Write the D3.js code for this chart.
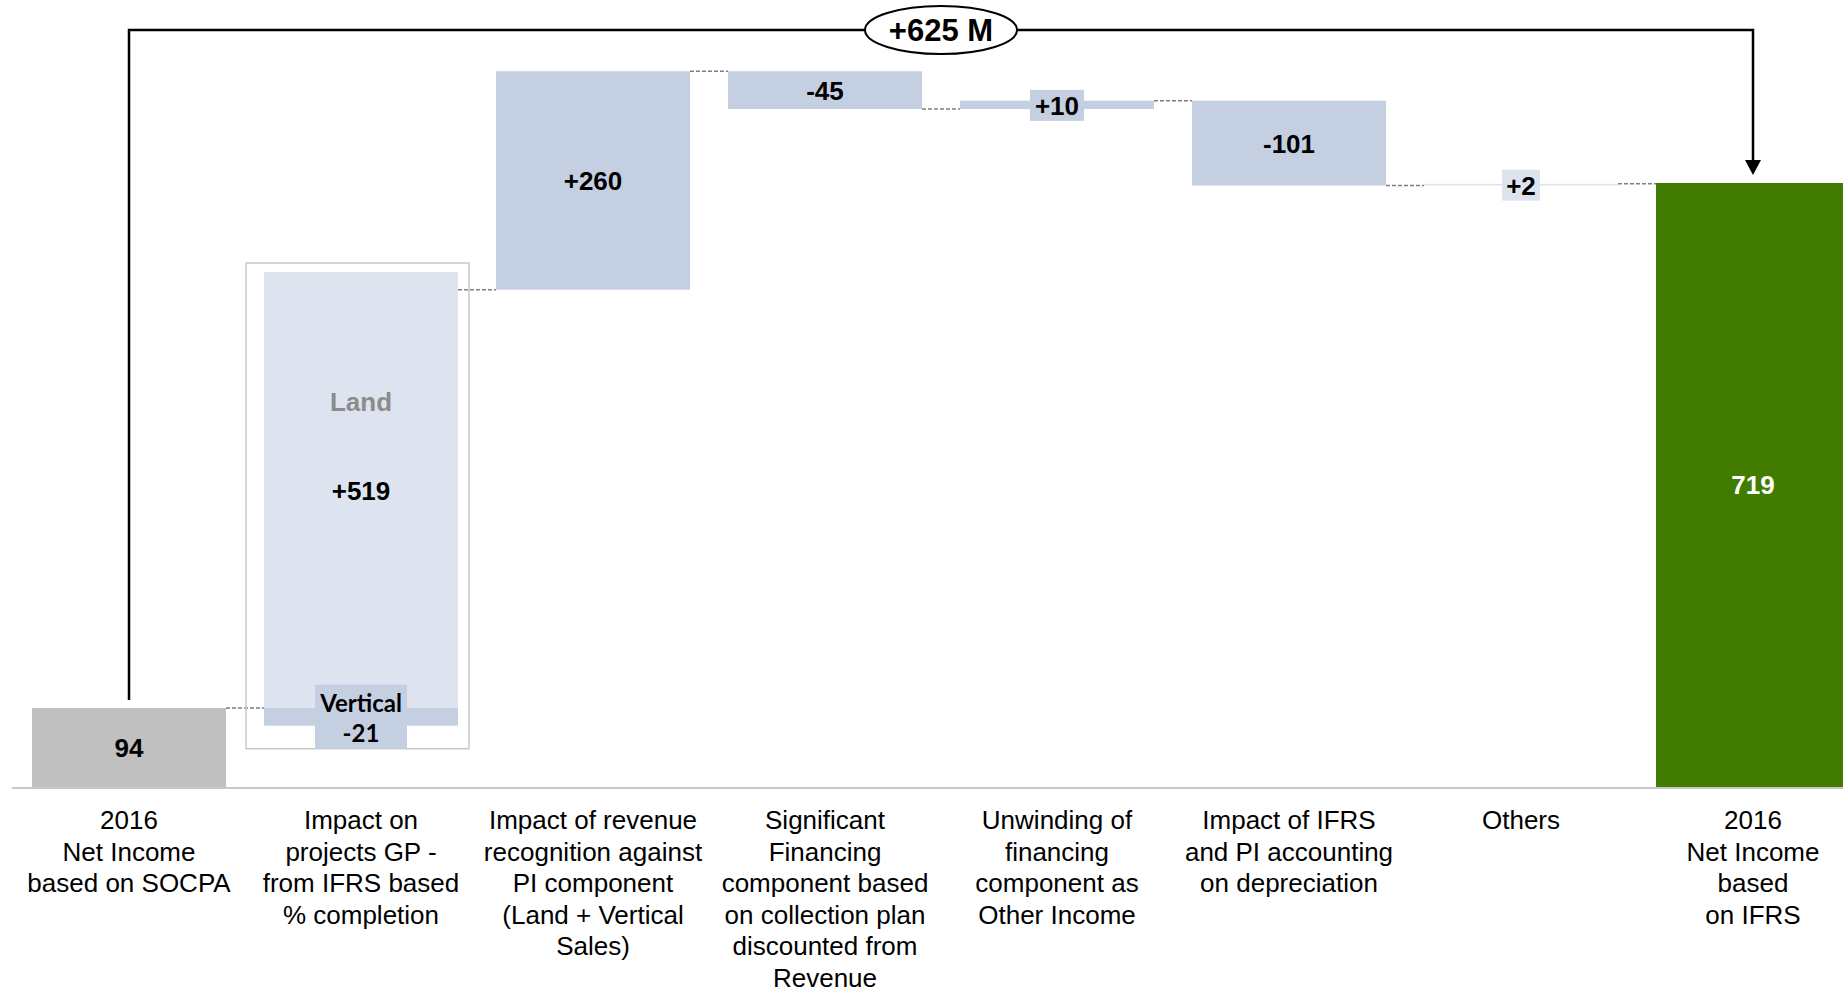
<!DOCTYPE html>
<html>
<head>
<meta charset="utf-8">
<script src="https://cdn.jsdelivr.net/npm/d3@7"></script>
<style>
  body { margin: 0; background: #fff; }
  svg { display: block; font-family: "Liberation Sans", Arial, sans-serif; }
</style>
</head>
<body>
<svg id="chart" width="1843" height="993"></svg>
<script>
// categories (x axis labels, one entry per line)
var categories = ['start', 'gp', 'revenue', 'financing', 'unwinding', 'depreciation', 'others', 'end'];
var categoryLines = [
  ['2016', 'Net Income', 'based on SOCPA'],
  ['Impact on', 'projects GP -', 'from IFRS based', '% completion'],
  ['Impact of revenue', 'recognition against', 'PI component', '(Land + Vertical', 'Sales)'],
  ['Significant', 'Financing', 'component based', 'on collection plan', 'discounted from', 'Revenue'],
  ['Unwinding of', 'financing', 'component as', 'Other Income'],
  ['Impact of IFRS', 'and PI accounting', 'on depreciation'],
  ['Others'],
  ['2016', 'Net Income', 'based', 'on IFRS']
];

var startValue = 94;
var landValue = 519;
var verticalValue = -21;
var stepValues = [260, -45, 10, -101, 2];   // revenue .. others
var stepLabels = ['+260', '-45', '+10', '-101', '+2'];
var endValue = 719;
var totalLabel = '+625 M';

var svg = d3.select('#chart');
var baseY = 787;

var x = d3.scaleBand()
  .domain(categories)
  .range([13, 1869])
  .paddingInner(0.164)
  .paddingOuter(0.082);

var y = d3.scaleLinear()
  .domain([0, endValue])
  .range([baseY, 183]);

var bw = x.bandwidth();
var barColor = '#c5cfe2';
var lightColor = '#dde4ef';

// running totals
var gpEnd = startValue + landValue + verticalValue;
var steps = [];
var run = gpEnd;
stepValues.forEach(function(v, i) {
  steps.push({cat: categories[i + 2], from: run, to: run + v, label: stepLabels[i], value: v});
  run += v;
});

// baseline
svg.append('line')
  .attr('x1', 12).attr('x2', 1843)
  .attr('y1', baseY + 1).attr('y2', baseY + 1)
  .attr('stroke', '#c8c8c8').attr('stroke-width', 2);

// connectors
var connectors = [
  {x1: x('start') + bw, x2: x('gp'), v: startValue},
  {x1: x('gp') + bw, x2: x('revenue'), v: gpEnd}
];
steps.forEach(function(s, i) {
  var next = i < steps.length - 1 ? steps[i + 1].cat : 'end';
  connectors.push({x1: x(s.cat) + bw, x2: x(next), v: s.to});
});
svg.selectAll('.conn')
  .data(connectors)
  .enter().append('line')
  .attr('class', 'conn')
  .attr('x1', function(d) { return d.x1; })
  .attr('x2', function(d) { return d.x2; })
  .attr('y1', function(d) { return y(d.v); })
  .attr('y2', function(d) { return y(d.v); })
  .attr('stroke', '#7f7f7f')
  .attr('stroke-width', 1.5)
  .attr('stroke-dasharray', '4,2');

// start bar
svg.append('rect')
  .attr('x', x('start')).attr('width', bw)
  .attr('y', y(startValue)).attr('height', baseY - y(startValue))
  .attr('fill', '#c0c0c0');
svg.append('text')
  .attr('x', x('start') + bw / 2).attr('y', (y(startValue) + baseY) / 2 + 9)
  .attr('text-anchor', 'middle').attr('font-weight', 'bold').attr('font-size', 26)
  .text(startValue);

// GP column: land + vertical
var gx = x('gp');
svg.append('rect')
  .attr('x', gx - 18).attr('width', bw + 29)
  .attr('y', y(startValue + landValue) - 9)
  .attr('height', y(startValue + verticalValue) + 23 - (y(startValue + landValue) - 9))
  .attr('fill', 'none').attr('stroke', '#c8c8c8').attr('stroke-width', 1.5);
svg.append('rect')
  .attr('x', gx).attr('width', bw)
  .attr('y', y(startValue + landValue)).attr('height', y(startValue) - y(startValue + landValue))
  .attr('fill', lightColor);
svg.append('rect')
  .attr('x', gx).attr('width', bw)
  .attr('y', y(startValue)).attr('height', y(startValue + verticalValue) - y(startValue))
  .attr('fill', barColor);
var landMid = (y(startValue + landValue) + y(startValue)) / 2;
svg.append('text')
  .attr('x', gx + bw / 2).attr('y', landMid - 79)
  .attr('text-anchor', 'middle').attr('font-weight', 'bold').attr('font-size', 26)
  .attr('fill', '#8c8c8c')
  .text('Land');
svg.append('text')
  .attr('x', gx + bw / 2).attr('y', landMid + 10)
  .attr('text-anchor', 'middle').attr('font-weight', 'bold').attr('font-size', 26)
  .text('+' + landValue);
var vBottom = y(startValue + verticalValue) + 23;
svg.append('rect')
  .attr('x', gx + bw / 2 - 46).attr('width', 92)
  .attr('y', vBottom - 64).attr('height', 64)
  .attr('fill', barColor);
svg.append('text')
  .attr('x', gx + bw / 2).attr('y', vBottom - 37)
  .attr('text-anchor', 'middle').attr('font-weight', 'bold').attr('font-size', 24)
  .attr('font-family', 'Lato, "Open Sans", sans-serif')
  .text('Vertical');
svg.append('text')
  .attr('x', gx + bw / 2).attr('y', vBottom - 7)
  .attr('text-anchor', 'middle').attr('font-weight', 'bold').attr('font-size', 24)
  .attr('font-family', 'Lato, "Open Sans", sans-serif')
  .text(verticalValue);

// step bars
var stepG = svg.selectAll('.step')
  .data(steps)
  .enter().append('g')
  .attr('class', 'step');
stepG.append('rect')
  .attr('x', function(d) { return x(d.cat); })
  .attr('width', bw)
  .attr('y', function(d) { return y(Math.max(d.from, d.to)); })
  .attr('height', function(d) { return Math.abs(y(d.from) - y(d.to)); })
  .attr('fill', function(d) { return Math.abs(d.value) < 5 ? lightColor : barColor; });
// label boxes for thin bars
stepG.filter(function(d) { return Math.abs(y(d.from) - y(d.to)) < 25; })
  .append('rect')
  .attr('x', function(d) { return x(d.cat) + bw / 2 - (d.label.length * 8 + 3); })
  .attr('width', function(d) { return d.label.length * 16 + 6; })
  .attr('y', function(d) { return (y(d.from) + y(d.to)) / 2 - 15; })
  .attr('height', 31)
  .attr('fill', function(d) { return Math.abs(d.value) < 5 ? lightColor : barColor; });
stepG.append('text')
  .attr('x', function(d) { return x(d.cat) + bw / 2; })
  .attr('y', function(d) { return (y(d.from) + y(d.to)) / 2 + 10; })
  .attr('text-anchor', 'middle').attr('font-weight', 'bold').attr('font-size', 26)
  .text(function(d) { return d.label; });

// end bar
svg.append('rect')
  .attr('x', x('end')).attr('width', bw)
  .attr('y', y(endValue)).attr('height', baseY - y(endValue))
  .attr('fill', '#417c00');
svg.append('text')
  .attr('x', x('end') + bw / 2).attr('y', (y(endValue) + baseY) / 2 + 9)
  .attr('text-anchor', 'middle').attr('font-weight', 'bold').attr('font-size', 26)
  .attr('fill', '#fff')
  .text(endValue);

// total change bracket
var cx0 = x('start') + bw / 2;
var cx1 = x('end') + bw / 2;
var topY = 30;
svg.append('path')
  .attr('d', 'M' + cx0 + ',' + (y(startValue) - 8) + 'V' + topY + 'H' + cx1 + 'V' + (y(endValue) - 20))
  .attr('fill', 'none').attr('stroke', '#000').attr('stroke-width', 2.5);
svg.append('path')
  .attr('d', 'M' + (cx1 - 8) + ',' + (y(endValue) - 23) + 'L' + (cx1 + 8) + ',' + (y(endValue) - 23) +
    'L' + cx1 + ',' + (y(endValue) - 8) + 'Z')
  .attr('fill', '#000');
svg.append('ellipse')
  .attr('cx', (cx0 + cx1) / 2).attr('cy', topY)
  .attr('rx', 76).attr('ry', 24)
  .attr('fill', '#fff').attr('stroke', '#000').attr('stroke-width', 2);
svg.append('text')
  .attr('x', (cx0 + cx1) / 2).attr('y', topY + 11)
  .attr('text-anchor', 'middle').attr('font-weight', 'bold').attr('font-size', 31)
  .text(totalLabel);

// category labels
var catG = svg.selectAll('.cat')
  .data(categories)
  .enter().append('text')
  .attr('class', 'cat')
  .attr('text-anchor', 'middle')
  .attr('font-size', 26)
  .attr('fill', '#000');
catG.selectAll('tspan')
  .data(function(d, i) { return categoryLines[i].map(function(l) { return {cat: d, line: l}; }); })
  .enter().append('tspan')
  .attr('x', function(d) { return x(d.cat) + bw / 2; })
  .attr('y', function(d, i) { return 829 + i * 31.5; })
  .text(function(d) { return d.line; });
</script>
</body>
</html>
